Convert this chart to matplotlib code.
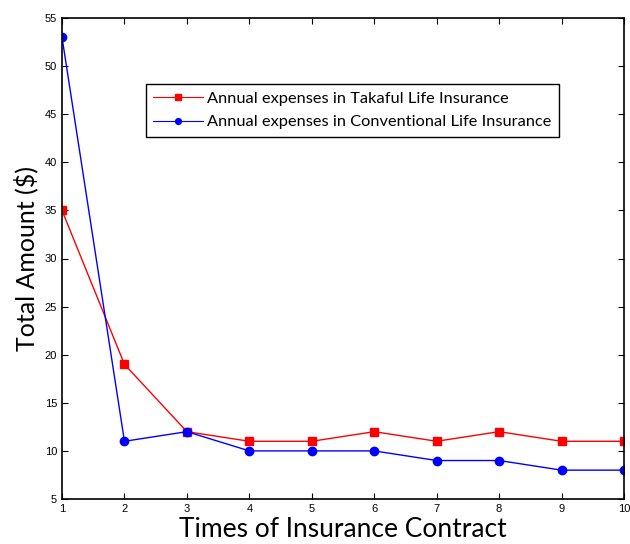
import matplotlib
matplotlib.use('Agg')
import matplotlib.pyplot as plt

contracts = [1, 2, 3, 4, 5, 6, 7, 8, 9, 10]
takaful = [35, 19, 12, 11, 11, 12, 11, 12, 11, 11]
conventional = [53, 11, 12, 10, 10, 10, 9, 9, 8, 8]
yticks = [5, 10, 15, 20, 25, 30, 35, 40, 45, 50, 55]

fig = plt.figure(figsize=(6.3, 5.44), dpi=100)
ax = fig.add_axes([62/630, 1 - 499/544, (624-62)/630, (499-18)/544])

ax.plot(contracts, takaful, color='red', lw=1, marker='s', ms=6,
        label='Annual expenses in Takaful Life Insurance')
ax.plot(contracts, conventional, color='blue', lw=1, marker='o', ms=6,
        label='Annual expenses in Conventional Life Insurance')

ax.set_xlim(1, 10)
ax.set_ylim(5, 55)
ax.set_xticks(contracts)
ax.set_yticks(yticks)
ax.tick_params(direction='in', length=4, labelsize=8, top=True, right=True,
               width=0.8)
for lab in ax.get_xticklabels() + ax.get_yticklabels():
    lab.set_family('Liberation Sans')
for s in ax.spines.values():
    s.set_linewidth(1.2)

ax.set_xlabel('Times of Insurance Contract', fontsize=19, family='Lato', labelpad=2)
ax.set_ylabel('Total Amount ($)', fontsize=18, family='Lato', labelpad=5)

leg = ax.legend(loc='upper left', bbox_to_anchor=((146-62)/562, 1 - (84-18)/481),
                borderaxespad=0, fancybox=False, edgecolor='black', framealpha=1,
                prop={'family': 'Lato', 'size': 11.8}, handlelength=3.0,
                borderpad=0.45, labelspacing=0.55, handletextpad=0.3, markerscale=0.7)
leg.get_frame().set_linewidth(1.0)
for h in leg.get_lines():
    h.set_linewidth(0.8)

fig.savefig('out.png', dpi=100)
